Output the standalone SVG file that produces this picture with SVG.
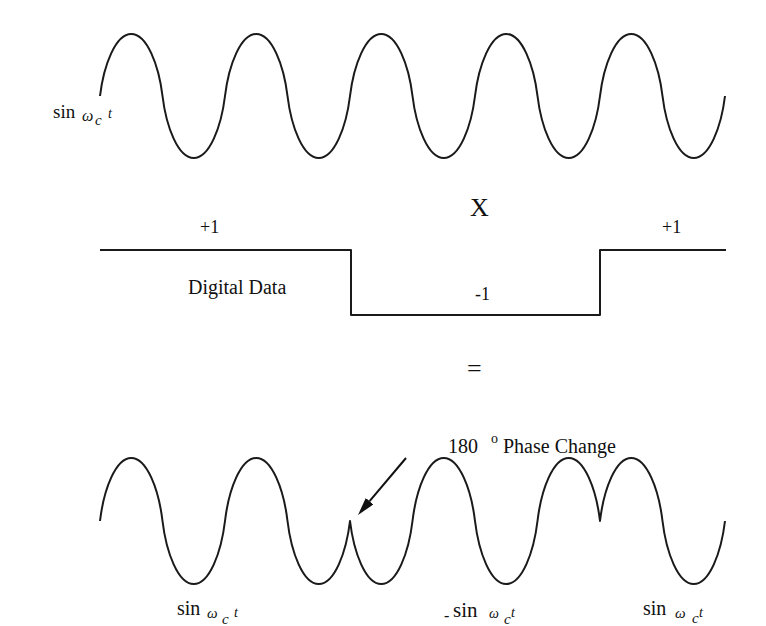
<svg xmlns="http://www.w3.org/2000/svg" width="766" height="626" viewBox="0 0 766 626">
<style>
.w{fill:none;stroke:#1a1a1a;stroke-width:2;stroke-linejoin:round}
.t{font-family:"Liberation Serif","Times New Roman",serif;fill:#111}
.i{font-style:italic}
</style>
<defs>
<marker id="ah" markerUnits="userSpaceOnUse" markerWidth="20" markerHeight="12" refX="0" refY="5" orient="auto">
<path d="M0,0 L18,5 L0,10 z" fill="#111"/>
</marker>
</defs>
<rect width="766" height="626" fill="#fff"/>
<g id="carrier">
<path class="w" d="M100,96
c3.75,-31 15.6,-62 31.25,-62 c15.65,0 27.5,31 31.25,62 c3.75,31 15.6,62 31.25,62 c15.65,0 27.5,-31 31.25,-62
c3.75,-31 15.6,-62 31.25,-62 c15.65,0 27.5,31 31.25,62 c3.75,31 15.6,62 31.25,62 c15.65,0 27.5,-31 31.25,-62
c3.75,-31 15.6,-62 31.25,-62 c15.65,0 27.5,31 31.25,62 c3.75,31 15.6,62 31.25,62 c15.65,0 27.5,-31 31.25,-62
c3.75,-31 15.6,-62 31.25,-62 c15.65,0 27.5,31 31.25,62 c3.75,31 15.6,62 31.25,62 c15.65,0 27.5,-31 31.25,-62
c3.75,-31 15.6,-62 31.25,-62 c15.65,0 27.5,31 31.25,62 c3.75,31 15.6,62 31.25,62 c15.65,0 27.5,-31 31.25,-62"/>
<text class="t" x="53" y="118" font-size="19">sin</text>
<text class="t i" x="82" y="121" font-size="16">ω</text>
<text class="t i" x="95" y="125" font-size="15">c</text>
<text class="t i" x="108" y="118" font-size="14">t</text>
</g>
<g id="multiply">
<text class="t" x="470" y="216" font-size="26">X</text>
</g>
<g id="data">
<path class="w" d="M100,250 H351 V315 H600 V250 H726"/>
<text class="t" x="200" y="233" font-size="18">+1</text>
<text class="t" x="662" y="233" font-size="18">+1</text>
<text class="t" x="475" y="300" font-size="18">-1</text>
<text class="t" x="188" y="294" font-size="20">Digital Data</text>
</g>
<g id="equals">
<text class="t" x="467" y="377" font-size="26">=</text>
</g>
<g id="product">
<path class="w" d="M100,521
c3.75,-31.5 15.6,-63 31.25,-63 c15.65,0 27.5,31.5 31.25,63 c3.75,31.5 15.6,63 31.25,63 c15.65,0 27.5,-31.5 31.25,-63
c3.75,-31.5 15.6,-63 31.25,-63 c15.65,0 27.5,31.5 31.25,63 c3.75,31.5 15.6,63 31.25,63 c15.65,0 27.5,-31.5 31.25,-63
c3.75,31.5 15.6,63 31.25,63 c15.65,0 27.5,-31.5 31.25,-63 c3.75,-31.5 15.6,-63 31.25,-63 c15.65,0 27.5,31.5 31.25,63
c3.75,31.5 15.6,63 31.25,63 c15.65,0 27.5,-31.5 31.25,-63 c3.75,-31.5 15.6,-63 31.25,-63 c15.65,0 27.5,31.5 31.25,63
c3.75,-31.5 15.6,-63 31.25,-63 c15.65,0 27.5,31.5 31.25,63 c3.75,31.5 15.6,63 31.25,63 c15.65,0 27.5,-31.5 31.25,-63"/>
<text class="t" x="177" y="615" font-size="20">sin</text>
<text class="t i" x="207" y="618" font-size="15">ω</text>
<text class="t i" x="222" y="624" font-size="15">c</text>
<text class="t i" x="234" y="617" font-size="14">t</text>
<text class="t" x="444" y="621" font-size="16">-</text>
<text class="t" x="453" y="617" font-size="21">sin</text>
<text class="t i" x="489" y="618" font-size="14">ω</text>
<text class="t i" x="504" y="624" font-size="15">c</text>
<text class="t i" x="511" y="617" font-size="14">t</text>
<text class="t" x="643" y="615" font-size="20">sin</text>
<text class="t i" x="675" y="618" font-size="15">ω</text>
<text class="t i" x="692" y="623" font-size="15">c</text>
<text class="t i" x="699" y="617" font-size="14">t</text>
</g>
<g id="phase-label">
<text class="t" x="448" y="453" font-size="20">180</text>
<text class="t" x="491" y="443" font-size="14">o</text>
<text class="t" x="503" y="453" font-size="20">Phase Change</text>
</g>
<g id="connectors">
<line x1="406" y1="458" x2="369.6" y2="501.2" stroke="#111" stroke-width="2" marker-end="url(#ah)"/>
</g>
</svg>
